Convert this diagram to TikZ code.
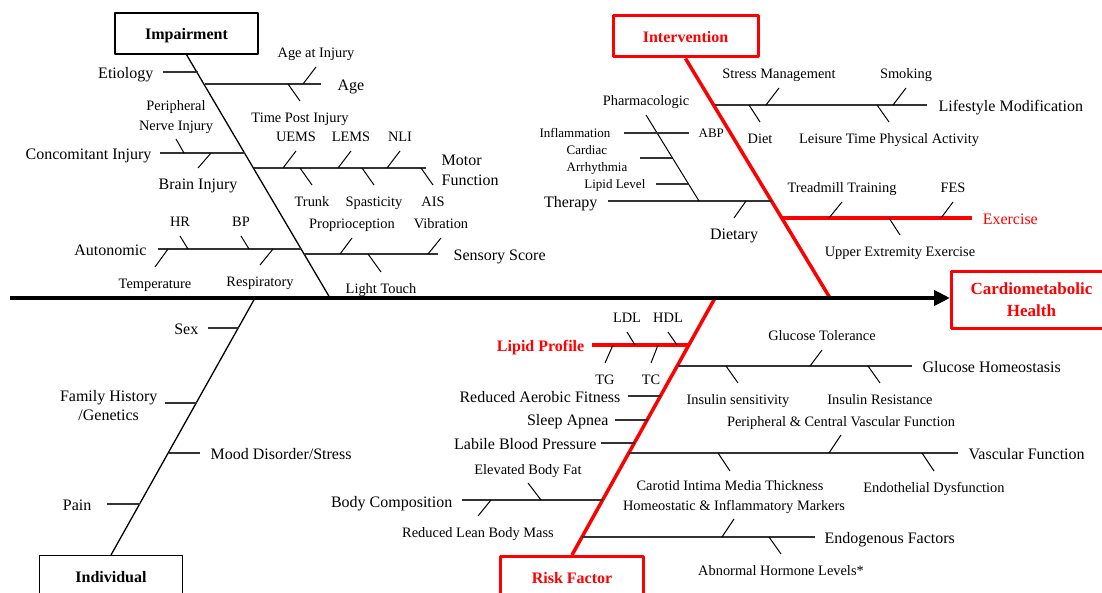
\documentclass[tikz,border=0pt]{standalone}
\usepackage{fontspec}
\setmainfont{Liberation Serif}
\usetikzlibrary{arrows.meta,positioning}

\begin{document}
\begin{tikzpicture}[x=1pt,y=-1pt,line join=round]
		\tikzstyle{every node}=[inner sep=1pt,text=black];
		\tikzstyle{box}=[draw=black,line width=1.3pt,minimum width=143pt,minimum height=41pt,inner sep=0pt,font=\fontsize{16}{18}\selectfont\bfseries];
		\tikzstyle{redbox}=[box,draw=red,text=red,line width=3pt];
		\tikzstyle{onerow}=[text height=12pt,text depth=0pt];
		\tikzstyle{bone}=[line width=1.3pt];
		\tikzstyle{redbone}=[red,line width=3.5pt];
		\tikzstyle{rib}=[black!80,line width=1.3pt];
		\tikzstyle{redrib}=[red,line width=3.5pt];
		\tikzstyle{tk}=[line width=1pt];
		\tikzstyle{bigtext}=[font=\fontsize{16}{20}\selectfont];
		\tikzstyle{smalltext}=[font=\fontsize{14.4}{20}\selectfont];
		\tikzstyle{tinytext}=[font=\fontsize{13}{17}\selectfont];
		\tikzstyle{rlab}=[bigtext,anchor=base west,xshift=8pt,yshift=-6.5pt];
		\tikzstyle{llab}=[bigtext,anchor=base east,xshift=-8pt,yshift=-6.5pt];
		\tikzstyle{uplab}=[smalltext,anchor=base,yshift=9pt];
		\tikzstyle{dnlab}=[smalltext,anchor=base,yshift=-21.5pt];
		\useasboundingbox (0,0) rectangle (1102,593);

		% boxes
		\node[box,onerow] (imp) at (186.5,33.5) {Impairment};
		\node[redbox,onerow,minimum width=145pt] (int) at (685.5,36.5) {Intervention};
		\node[box,onerow,anchor=north] (ind) at (111,555) {Individual};
		\node[redbox,onerow,anchor=north] (risk) at (572,555) {Risk Factor};
		\node[redbox,anchor=north west,minimum width=160pt,minimum height=57pt,align=center,font=\fontsize{17}{22}\selectfont\bfseries] (health) at (950,270) {Cardiometabolic\\Health};

		% bones
		\coordinate (impE) at (330,298);
		\coordinate (indS) at (255,298);
		\coordinate (intE) at (830,298);
		\coordinate (riskS) at (715,298);
		\draw[bone] (imp.south) -- (impE);
		\draw[bone] (indS) -- (ind.north);
		\draw[redbone] (int.south) -- (intE);
		\draw[redbone] (riskS) -- (risk.north);

		% spine
		\coordinate (tail) at (10,298);
		\draw[line width=4pt,-{Triangle[length=16pt,width=15pt]}] (tail) -- (tail -| health.west);

		% Impairment
		\draw[rib] (198,72) -- (163,72) node[llab] (etio) {Etiology};
		\draw[rib] (205,84) -- (321,84) node[rlab,xshift=7pt] (age) {Age};
		\draw[tk] (303,84) -- ++(13,-17) node[uplab] (ageinj) {Age at Injury};
		\draw[tk] (288,84) -- ++(12,17) node[dnlab] (tpi) {Time Post Injury};
		\draw[rib] (245,153) -- (160,153) node[llab,xshift=1pt] (conc) {Concomitant Injury};
		\draw[tk] (184,153) -- ++(-8,-14) node[smalltext,anchor=south,align=center,yshift=4pt] (pni) {Peripheral\\Nerve Injury};
		\draw[tk] (211,153) -- ++(-13,15) node[dnlab,bigtext] (brain) {Brain Injury};
		\draw[rib] (254,168) -- (426,168) node[bigtext,anchor=west,align=left,xshift=14pt,yshift=-2pt] (motor) {Motor\\Function};
		\draw[tk] (283,168) -- ++(13,-17) node[uplab] (uems) {UEMS};
		\draw[tk] (338,168) -- ++(13,-17) node[uplab] (lems) {LEMS};
		\draw[tk] (387,168) -- ++(13,-17) node[uplab] (nli) {NLI};
		\draw[tk] (300,168) -- ++(12,17) node[dnlab] (trunk) {Trunk};
		\draw[tk] (362,168) -- ++(12,17) node[dnlab] (spast) {Spasticity};
		\draw[tk] (421,168) -- ++(12,17) node[dnlab] (ais) {AIS};
		\draw[rib] (301,249) -- (158,249) node[llab,xshift=-2pt] (auto) {Autonomic};
		\draw[tk] (188,249) -- ++(-8,-13) node[uplab] (hr) {HR};
		\draw[tk] (249,249) -- ++(-8,-13) node[uplab] (bp) {BP};
		\draw[tk] (168,249) -- ++(-13,18) node[dnlab] (temp) {Temperature};
		\draw[tk] (273,249) -- ++(-13,16) node[dnlab] (resp) {Respiratory};
		\draw[rib] (304,254) -- (438,254) node[rlab,xshift=6pt] (sens) {Sensory Score};
		\draw[tk] (340,254) -- ++(12,-16) node[uplab] (prop) {Proprioception};
		\draw[tk] (428,254) -- ++(13,-16) node[uplab] (vib) {Vibration};
		\draw[tk] (368,254) -- ++(13,18) node[dnlab] (touch) {Light Touch};

		% Individual
		\draw[rib] (239,328) -- (208,328) node[llab] (sex) {Sex};
		\draw[rib] (197,403) -- (165,403) node[anchor=east,align=center,xshift=-6pt,yshift=-2.5pt,font=\fontsize{16}{19}\selectfont] (fam) {Family History\\/Genetics};
		\draw[rib] (169,453) -- (200,453) node[rlab,xshift=1pt] (mood) {Mood Disorder/Stress};
		\draw[rib] (140,504) -- (107,504) node[llab,xshift=-6pt] (pain) {Pain};

		% Intervention
		\draw[rib] (715,105) -- (927,105) node[rlab,xshift=2pt] (life) {Lifestyle Modification};
		\draw[tk] (766,105) -- ++(13,-17) node[uplab] (stress) {Stress Management};
		\draw[tk] (893,105) -- ++(13,-17) node[uplab] (smoke) {Smoking};
		\draw[tk] (749,105) -- ++(11,17) node[dnlab] (diet) {Diet};
		\draw[tk] (877,105) -- ++(12,17) node[dnlab] (leis) {Leisure Time Physical Activity};
		\draw[rib] (772,201) -- (608,201) node[llab,xshift=-1pt] (ther) {Therapy};
		\draw[tk] (746,201) -- ++(-12,17) node[dnlab,bigtext] (dietary) {Dietary};
		\draw[tk] (699,201) -- (646,115) node[uplab] (pharm) {Pharmacologic};
		\draw[rib] (624,133) node[tinytext,anchor=base east,xshift=-12pt,yshift=-4.3pt] (infl) {Inflammation}
			-- (689,133) node[tinytext,anchor=base west,xshift=8pt,yshift=-4.3pt] (abp) {ABP};
		\draw[rib] (672,158) -- (640,158) node[tinytext,anchor=east,align=left,xshift=-11pt,yshift=-1.8pt] (card) {Cardiac\\Arrhythmia};
		\draw[rib] (688,184) -- (656,184) node[tinytext,anchor=base east,xshift=-9pt,yshift=-4.3pt] (lipid) {Lipid Level};
		\draw[redrib] (782,218) -- (972,218) node[rlab,text=red] (exer) {Exercise};
		\draw[tk] (829,218) -- ++(13,-16) node[uplab] (tread) {Treadmill Training};
		\draw[tk] (941,218) -- ++(12,-16) node[uplab] (fes) {FES};
		\draw[tk] (889,218) -- ++(11,17) node[dnlab] (upper) {Upper Extremity Exercise};

		% Risk Factor
		\draw[redrib] (690,345) -- (592,345) node[llab,xshift=3pt,text=red,font=\fontsize{16}{20}\selectfont\bfseries] (lipidp) {Lipid Profile};
		\draw[tk] (635,345) -- ++(-8,-13) node[uplab] (ldl) {LDL};
		\draw[tk] (677,345) -- ++(-9,-13) node[uplab] (hdl) {HDL};
		\draw[tk] (613,345) -- ++(-8,18) node[dnlab] (tg) {TG};
		\draw[tk] (658,345) -- ++(-7,18) node[dnlab] (tc) {TC};
		\draw[rib] (678,366) -- (912,366) node[rlab,xshift=1pt] (gluc) {Glucose Homeostasis};
		\draw[tk] (810,366) -- ++(12,-16) node[uplab] (gtol) {Glucose Tolerance};
		\draw[tk] (726,366) -- ++(12,17) node[dnlab] (isens) {Insulin sensitivity};
		\draw[tk] (868,366) -- ++(12,17) node[dnlab] (ires) {Insulin Resistance};
		\draw[rib] (661,396) -- (628,396) node[llab,xshift=2pt] (aer) {Reduced Aerobic Fitness};
		\draw[rib] (648,420) -- (615,420) node[llab,xshift=3pt,yshift=1pt] (sleep) {Sleep Apnea};
		\draw[rib] (635,443) -- (601,443) node[llab,xshift=5pt] (labile) {Labile Blood Pressure};
		\draw[rib] (629,453) -- (958,453) node[rlab,xshift=1pt] (vasc) {Vascular Function};
		\draw[tk] (829,453) -- ++(12,-18) node[uplab] (pcvf) {Peripheral \& Central Vascular Function};
		\draw[tk] (718,453) -- ++(12,18) node[dnlab,yshift=2pt] (cimt) {Carotid Intima Media Thickness};
		\draw[tk] (922,453) -- ++(12,18) node[dnlab] (endo) {Endothelial Dysfunction};
		\draw[rib] (603,500) -- (462,500) node[llab,yshift=-1pt] (body) {Body Composition};
		\draw[tk] (541,500) -- ++(-13,-17) node[uplab] (fat) {Elevated Body Fat};
		\draw[tk] (491,500) -- ++(-13,16) node[dnlab] (lean) {Reduced Lean Body Mass};
		\draw[rib] (582,537) -- (815,537) node[rlab] (endog) {Endogenous Factors};
		\draw[tk] (722,537) -- ++(12,-18) node[uplab] (hifm) {Homeostatic \& Inflammatory Markers};
		\draw[tk] (769,537) -- ++(12,17) node[dnlab] (hormone) {Abnormal Hormone Levels*};
\end{tikzpicture}
\end{document}
